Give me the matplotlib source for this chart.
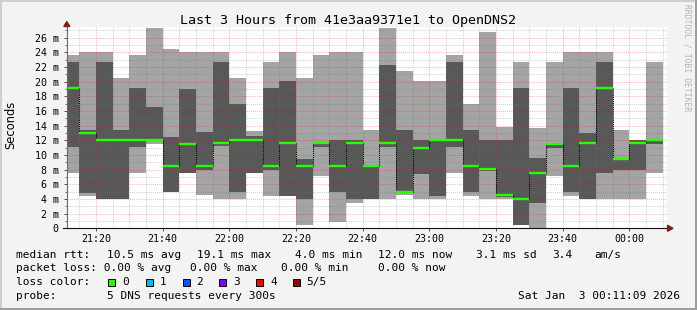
import re
import matplotlib
matplotlib.use("Agg")
import matplotlib.pyplot as plt
from matplotlib.patches import Rectangle, Polygon

# ---------------- data ----------------
window_start = "21:11:09"
window_end = "00:11:09"
bar_end_times = ["21:15", "21:20", "21:25", "21:30", "21:35", "21:40", "21:45", "21:50", "21:55",
                 "22:00", "22:05", "22:10", "22:15", "22:20", "22:25", "22:30", "22:35", "22:40",
                 "22:45", "22:50", "22:55", "23:00", "23:05", "23:10", "23:15", "23:20", "23:25",
                 "23:30", "23:35", "23:40", "23:45", "23:50", "23:55", "00:00", "00:05", "00:10"]
# five sorted pings per interval (ms)
ping1 = [7.6, 4.4, 4.0, 4.0, 7.6, 11.5, 4.9, 7.5, 4.5, 4.0, 4.0, 7.5, 4.4, 4.4, 0.5, 7.2, 0.9, 3.5,
         4.0, 4.0, 4.6, 4.0, 4.0, 7.6, 4.4, 4.0, 4.0, 0.5, 0.0, 7.2, 4.4, 4.0, 4.0, 4.0, 4.0, 7.6]
ping2 = [11.1, 4.8, 4.0, 4.0, 11.1, 12.0, 4.9, 7.5, 8.0, 11.3, 4.9, 7.5, 8.0, 4.4, 4.0, 11.1, 4.9, 4.0,
         4.0, 11.1, 4.8, 7.4, 4.4, 11.1, 4.9, 7.8, 4.3, 0.5, 3.5, 11.0, 4.9, 4.0, 7.6, 8.0, 8.0, 11.5]
median = [19.2, 13.0, 12.1, 12.1, 12.1, 12.1, 8.5, 11.5, 8.5, 11.6, 12.1, 12.1, 8.5, 11.6, 8.5, 11.6,
          8.5, 11.6, 8.5, 11.6, 4.9, 11.0, 12.0, 12.1, 8.5, 8.1, 4.5, 4.0, 7.5, 11.5, 8.5, 11.6,
          19.2, 9.4, 11.6, 12.0]
ping4 = [22.7, 13.4, 22.7, 13.4, 19.1, 16.5, 12.5, 19.0, 13.1, 22.7, 17.0, 12.6, 19.1, 20.1, 9.4, 11.8,
         12.0, 12.0, 8.7, 22.3, 13.4, 12.0, 12.1, 22.7, 13.4, 12.0, 12.0, 19.1, 9.6, 11.7, 19.1, 13.0,
         22.7, 9.5, 12.0, 12.0]
ping5 = [23.6, 24.1, 24.1, 20.5, 23.6, 27.3, 24.5, 24.1, 24.1, 24.1, 20.5, 13.3, 22.7, 24.1, 20.5, 23.6,
         24.1, 24.1, 13.4, 27.3, 21.5, 20.1, 20.1, 23.6, 17.0, 26.8, 13.8, 22.7, 13.7, 22.7, 24.1, 24.1,
         24.1, 13.4, 12.1, 22.7]
x_tick_labels = ["21:20", "21:40", "22:00", "22:20", "22:40", "23:00", "23:20", "23:40", "00:00"]
y_tick_values = [0, 2, 4, 6, 8, 10, 12, 14, 16, 18, 20, 22, 24, 26]
loss_labels = ["0", "1", "2", "3", "4", "5/5"]
loss_colors = ["#26ff00", "#00b8ff", "#0059ff", "#7e00ff", "#ff0000", "#a10000"]

title = "Last 3 Hours from 41e3aa9371e1 to OpenDNS2"
legend_lines = [
    "median rtt:  10.5 ms avg  19.1 ms max   4.0 ms min  12.0 ms now   3.1 ms sd  3.4   am/s",
    "packet loss: 0.00 % avg  0.00 % max   0.00 % min    0.00 % now",
    "loss color:",
    "probe:       5 DNS requests every 300s",
]
date_text = "Sat Jan  3 00:11:09 2026"

# ---------------- helpers ----------------
W, H = 697, 310
MONO = "DejaVu Sans Mono"


def to_min(s):
    parts = [int(p) for p in s.split(":")]
    h = parts[0] + (24 if parts[0] < 12 else 0)
    m = (h - 21) * 60 + parts[1]
    if len(parts) > 2:
        m += parts[2] / 60.0
    return m


def fx(px):
    return px / W


def fy(py):
    return 1 - py / H


LIGHT = "#a4a4a4"
DARK = "#585858"
GREEN = loss_colors[0]
MINOR = (0.45, 0.45, 0.45, 0.32)
MAJOR = (0.92, 0.1, 0.1, 0.30)
ARROW = "#7f1f1f"

fig = plt.figure(figsize=(W / 100, H / 100), dpi=100)
fig.patch.set_facecolor("#f3f3f3")

ax_left, ax_right = 66.5, 666.5
ax_bottom, ax_top = 228.3, 26.8
ax = fig.add_axes([fx(ax_left), fy(ax_bottom), (ax_right - ax_left) / W, (ax_bottom - ax_top) / H])
ax.set_facecolor("white")

t0, t1 = to_min(window_start), to_min(window_end)
ytop = (ax_bottom - ax_top) / 7.326
ax.set_xlim(t0, t1)
ax.set_ylim(0, ytop)

ends = [to_min(t) for t in bar_end_times]
lefts = [max(e - 5, t0) for e in ends]
widths = [e - l for e, l in zip(ends, lefts)]

# smoke
ax.bar(lefts, [b - a for a, b in zip(ping1, ping5)], bottom=ping1, width=widths, align="edge",
       color=LIGHT, linewidth=0, zorder=2)
ax.bar(lefts, [b - a for a, b in zip(ping2, ping4)], bottom=ping2, width=widths, align="edge",
       color=DARK, linewidth=0, zorder=3)

# grid (drawn over the smoke, as rrdtool does)
for v in range(1, int(ytop) + 1):
    ax.axhline(v, color=MAJOR if v % 2 == 0 else MINOR, lw=0.75, ls=(0, (1, 1)), zorder=4)
m = 15
while m < t1:
    ax.axvline(m, color=MAJOR if m % 20 == 0 else MINOR, lw=0.75, ls=(0, (1, 1)), zorder=4)
    m += 5

# median connectors and median lines
for i in range(len(median) - 1):
    ax.plot([ends[i], ends[i]], [median[i], median[i + 1]], color="black", lw=0.75,
            ls=(0, (1, 1)), zorder=5)
ax.hlines(median, lefts, ends, color=GREEN, lw=1.7, zorder=6)

# axes
for s in ["top", "right"]:
    ax.spines[s].set_visible(False)
ax.spines["left"].set_color("#6a6a6a")
ax.spines["bottom"].set_color("#101010")
ax.spines["left"].set_linewidth(0.8)
ax.spines["bottom"].set_linewidth(0.8)
ax.spines["left"].set_zorder(7)
ax.spines["bottom"].set_zorder(7)

ax.set_yticks(y_tick_values)
ax.set_yticklabels(["0"] + [f"{v} m" for v in y_tick_values[1:]])
ax.set_yticks(list(range(1, 28, 2)), minor=True)
ax.set_xticks([20 * (i + 1) for i in range(len(x_tick_labels))])
ax.set_xticklabels(x_tick_labels)
ax.tick_params(axis="y", which="major", length=2.5, width=0.7, pad=3, labelsize=7.2, color="#505050")
ax.tick_params(axis="y", which="minor", length=1.5, width=0.7, color="#707070")
ax.tick_params(axis="x", length=2, width=0.7, pad=2, labelsize=7.2, color="#505050")
for lab in ax.get_xticklabels() + ax.get_yticklabels():
    lab.set_family(MONO)

# x axis extends slightly left of the y axis
fig.add_artist(plt.Line2D([fx(62.5), fx(ax_left)], [fy(ax_bottom), fy(ax_bottom)], color="#101010",
                          lw=0.8, transform=fig.transFigure))

# arrows
fig.add_artist(Polygon([[fx(63.8), fy(26.5)], [fx(69.8), fy(26.5)], [fx(66.8), fy(21.5)]],
                       closed=True, color=ARROW, transform=fig.transFigure))
fig.add_artist(Polygon([[fx(667.5), fy(225.3)], [fx(667.5), fy(231.3)], [fx(673), fy(228.3)]],
                       closed=True, color=ARROW, transform=fig.transFigure))

# title / labels
fig.text(fx(347.5), fy(24), title, ha="center", va="baseline", family=MONO, size=9.6)
fig.text(fx(11), fy(125), "Seconds", rotation=90, ha="center", va="center",
         family="DejaVu Sans", size=8.3)
fig.text(fx(687.5), fy(4.5), "RRDTOOL / TOBI OETIKER", rotation=270, ha="center", va="top",
         family=MONO, size=5.8, color="#b4b4b4")

# legend
pitch = 6.97
baselines = [257.7, 271.2, 285.3, 299.3]
for line, yb in zip(legend_lines, baselines):
    for mt in re.finditer(r"\S+(?: \S+)*", line):
        fig.text(fx(16 + mt.start() * pitch), fy(yb), mt.group(0), ha="left", va="baseline",
                 family=MONO, size=8.0)

box_x = [108.3, 145.7, 182.7, 219.3, 256.0, 292.7]
lab_x = [122.5, 159.7, 196.2, 233.0, 270.0, 306.3]
for bx, lx, lab, col in zip(box_x, lab_x, loss_labels, loss_colors):
    fig.add_artist(Rectangle((fx(bx), fy(286.0)), 7.0 / W, 7.0 / H, facecolor=col,
                             edgecolor="black", lw=0.7, transform=fig.transFigure))
    fig.text(fx(lx), fy(285.3), lab, ha="left", va="baseline", family=MONO, size=8.0)

fig.text(fx(680.5), fy(299.3), date_text, ha="right", va="baseline", family=MONO, size=8.0)

# frame shading
fig.add_artist(Rectangle((0, fy(2)), 1, 2 / H, color="#cfcfcf", transform=fig.transFigure, lw=0))
fig.add_artist(Rectangle((0, 0), 2 / W, 1, color="#cfcfcf", transform=fig.transFigure, lw=0))
fig.add_artist(Rectangle((0, 0), 1, 2 / H, color="#9e9e9e", transform=fig.transFigure, lw=0))
fig.add_artist(Rectangle((1 - 2 / W, 0), 2 / W, 1, color="#9e9e9e", transform=fig.transFigure, lw=0))

fig.savefig("out.png", dpi=100, facecolor=fig.get_facecolor())
